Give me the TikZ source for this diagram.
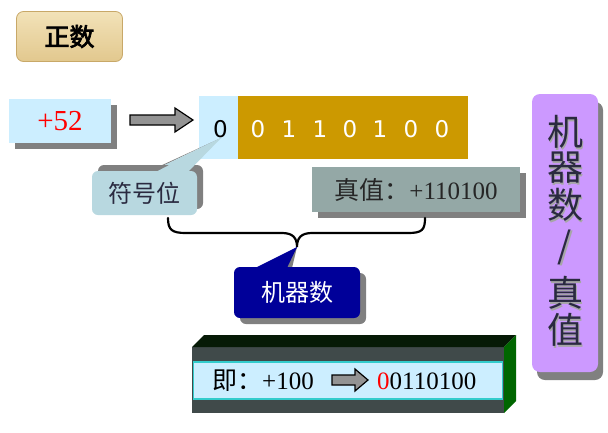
\documentclass[tikz,border=0pt]{standalone}
\usepackage{fontspec}
\setmainfont{Liberation Serif}
\newfontfamily\cjk{Noto Sans CJK SC}
\newfontfamily\cjkb[FakeBold=3]{Noto Sans CJK SC}
\newfontfamily\dv{DejaVu Sans}
\usetikzlibrary{shadows}
\definecolor{tanL}{HTML}{F2E2B8}
\definecolor{tanD}{HTML}{E2C88E}
\definecolor{tanB}{HTML}{C8A868}
\definecolor{lblue}{HTML}{CCEEFF}
\definecolor{gold}{HTML}{CC9900}
\definecolor{signc}{HTML}{B8D8E0}
\definecolor{truec}{HTML}{94A8A6}
\definecolor{navy}{HTML}{000099}
\definecolor{purp}{HTML}{CC99FF}
\definecolor{shd}{HTML}{808080}
\definecolor{frontc}{HTML}{404A4A}
\definecolor{topc}{HTML}{061A06}
\definecolor{sidec}{HTML}{006600}
\definecolor{tealb}{HTML}{33CCCC}
\definecolor{txtd}{HTML}{2A2A40}
\tikzset{
  sz/.style={font=\fontsize{#1}{#1}\selectfont},
  shdw/.style={drop shadow={shadow xshift=6pt, shadow yshift=-6pt, fill=shd, opacity=1}},
  shdwup/.style={drop shadow={shadow xshift=6pt, shadow yshift=6pt, fill=shd, opacity=1}},
  blockarrow/.style={draw=black, fill=gray!85, line width=1.2pt, line join=miter},
  wdig/.style={text=white, font=\dv\fontsize{23}{23}\selectfont, inner sep=0pt},
  vchar/.style={text=txtd, font=\cjk\fontsize{36}{36}\selectfont, inner sep=0pt},
  vshadow/.style={text=gray!70, font=\cjk\fontsize{36}{36}\selectfont, inner sep=0pt},
}
\begin{document}
\begin{tikzpicture}[x=1pt,y=-1pt]
\path[use as bounding box, fill=white] (0,0) rectangle (608,432);

% title
\node[rounded corners=7pt, top color=tanL, bottom color=tanD, draw=tanB, line width=0.8pt,
  minimum width=106pt, minimum height=50pt, font=\cjkb\fontsize{25}{25}\selectfont] (zs) at (69.5,36.5) {正数};

% +52
\node[fill=lblue, shdw, minimum width=102pt, minimum height=44pt, text=red, sz=29] (p52) at (60,121) {+52};

% arrow 1
\coordinate (a1) at (130,120);
\draw[blockarrow] (a1) ++(0,-5) -- ++(45,0) -- ++(0,-7) -- (193,120) -- (175,132) -- ++(0,-7) -- ++(-45,0) -- cycle;

% number boxes
\node[fill=lblue, minimum width=39pt, minimum height=63pt, inner sep=0pt, anchor=north west] (sbox) at (199,96) {};
\node[fill=gold, minimum width=230pt, minimum height=63pt, inner sep=0pt, anchor=north west] (gbox) at (238,96) {};
\node[text=black, font=\dv\fontsize{23}{23}\selectfont, inner sep=0pt] (d0) at (220.5,129) {0};
\node[wdig] (d1) at (258,129) {0};
\node[wdig] (d2) at (289,129) {1};
\node[wdig] (d3) at (320,129) {1};
\node[wdig] (d4) at (350,129) {0};
\node[wdig] (d5) at (380,129) {1};
\node[wdig] (d6) at (411,129) {0};
\node[wdig] (d7) at (442,129) {0};

% sign callout
\coordinate (tip1) at (221,138);
\fill[shd] (150,172) -- (tip1) -- (147,172) -- cycle;
\fill[signc] (tip1) -- (150,172) -- (185,172) -- cycle;
\node[rounded corners=6pt, fill=signc, shdwup, minimum width=105pt, minimum height=44pt,
  text=txtd, font=\cjk\fontsize{24}{24}\selectfont] (sign) at (144.5,193) {符号位};
\fill[signc] (tip1) -- (150,175) -- (185,175) -- cycle;

% true value
\node[fill=truec, shdw, minimum width=208pt, minimum height=45pt, text=black!85, sz=25] (tv) at (416,189.5) {{\cjk 真值：}+110100};

% brace
\coordinate (bl) at (168,218);
\coordinate (bt) at (297,247);
\coordinate (br) at (425,218);
\draw[line width=2.2pt, line cap=round] (bl) .. controls (168,230) and (172,233) .. (186,233) -- (282,233)
  .. controls (293,233) and (297,238) .. (bt) .. controls (297,238) and (301,233) .. (312,233) -- (408,233)
  .. controls (422,233) and (425,230) .. (br);

% machine number callout
\fill[shd] (283,268) -- (bt) -- (292,268) -- cycle;
\fill[navy] (255,268) -- (bt) -- (285,268) -- cycle;
\node[rounded corners=6pt, fill=navy, shdw, minimum width=126pt, minimum height=51pt,
  text=white, font=\cjk\fontsize{24}{24}\selectfont] (mn) at (297,292.5) {机器数};
\fill[navy] (258,272) -- (bt) -- (285,272) -- cycle;

% 3D box
\coordinate (f1) at (192,347);
\coordinate (f2) at (504,413);
\fill[frontc] (f1) rectangle (f2);
\fill[topc] (f1) -- (204,335) -- (516,335) -- (504,347) -- cycle;
\fill[sidec] (504,347) -- (516,335) -- (516,401) -- (f2) -- cycle;
\node[fill=lblue, draw=tealb, line width=1.5pt, minimum width=309pt, minimum height=37pt, inner sep=0pt] (inner) at (348,380.5) {};
\node[anchor=west, inner sep=0pt, sz=25] (jl) at (212,381) {{\cjk 即：}+100};
\coordinate (a2) at (332,380);
\draw[blockarrow] (a2) ++(0,-5) -- ++(23,0) -- ++(0,-6) -- (368,380) -- (355,391) -- ++(0,-6) -- ++(-23,0) -- cycle;
\node[anchor=west, inner sep=0pt, sz=25] (jr) at (377,381) {{\color{red}0}0110100};

% right vertical box
\node[rounded corners=8pt, fill=purp, drop shadow={shadow xshift=5pt, shadow yshift=-8pt, fill=shd, opacity=1},
  minimum width=66pt, minimum height=278pt] (vb) at (565,233) {};
\foreach \c/\yy [count=\i] in {机/132, 器/168, 数/205, {/}/247, 真/293, 值/330} {
  \node[vshadow] at (566.5,\yy+1.5) {\c};
  \node[vchar] (v\i) at (565,\yy) {\c};
}
\end{tikzpicture}
\end{document}
